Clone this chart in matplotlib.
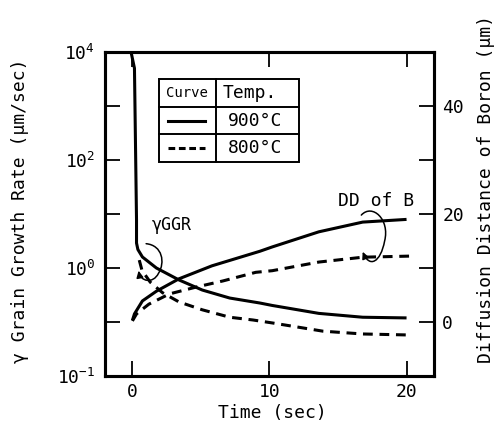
#!/usr/bin/env python3
# coding: utf-8
"""
Grain growth rate (gamma) and boron diffusion distance vs time, 900/800 C.
Left axis: growth rate (split log scale), right axis: diffusion distance.
"""

import numpy as np
import matplotlib
matplotlib.use("Agg")
import matplotlib.pyplot as plt
from matplotlib.path import Path
from matplotlib.patches import FancyArrowPatch, Rectangle
from matplotlib.lines import Line2D
from matplotlib.ticker import FixedLocator, FixedFormatter

plt.rcParams["font.family"] = ["DejaVu Sans Mono"]
plt.rcParams["mathtext.fontset"] = "custom"
plt.rcParams["mathtext.rm"] = "DejaVu Sans Mono"
plt.rcParams["mathtext.it"] = "DejaVu Sans Mono"

# gamma grain growth rate (um/sec)
t_ggr_900 = [-0.1, 0.15, 0.3, 0.3, 0.4, 0.73, 1.75, 3.4, 5.1, 7.1, 9.3, 10.2,
             13.6, 16.8, 20.0]
ggr_900 = [1e4, 5000, 7.8, 2.9, 2.2, 1.6, 1.0, 0.775, 0.625, 0.527, 0.474, 0.45,
           0.38, 0.35, 0.345]
t_ggr_800 = [0.5, 0.7, 1.3, 2.2, 3.4, 5.1, 7.1, 8.8, 10.2, 13.9, 16.8, 20.0]
ggr_800 = [1.4, 0.95, 0.74, 0.59, 0.485, 0.41, 0.35, 0.33, 0.31, 0.26, 0.245, 0.24]

# diffusion distance of boron (um)
t_dd_900 = [0.0, 0.15, 0.73, 1.75, 3.4, 5.8, 9.3, 10.2, 13.6, 16.8, 20.0]
dd_900 = [0.3, 1.5, 3.9, 5.7, 8.0, 10.4, 13.1, 13.9, 16.7, 18.5, 19.0]
t_dd_800 = [0.0, 0.3, 1.2, 2.7, 4.7, 6.6, 9.0, 10.2, 13.6, 16.8, 20.2]
dd_800 = [0.2, 1.5, 3.3, 5.2, 6.5, 7.6, 9.2, 9.5, 11.1, 12.0, 12.2]

x_ticks = [0, 10, 20]
left_ticks = [1e4, 1e3, 1e2, 1e1, 1.0, 10 ** -0.5, 0.1]
left_labels = [r"$\mathregular{10^{4}}$", "", r"$\mathregular{10^{2}}$", "",
               r"$\mathregular{10^{0}}$", "", r"$\mathregular{10^{-1}}$"]
right_ticks = [0, 10, 20, 30, 40]
right_labels = ["0", "", "20", "", "40"]


def fwd(y):
    # one decade per step above 1, half-decade steps below 1
    y = np.log10(np.clip(y, 1e-6, None))
    return np.where(y >= 0, y, 2 * y)


def inv(u):
    u = np.asarray(u, dtype=float)
    return np.where(u >= 0, 10.0 ** u, 10.0 ** (u / 2))


LW = 2.2
DASH = (0, (3.2, 2.2))

fig = plt.figure(figsize=(4.95, 4.28), dpi=100)
ax = fig.add_axes([0.2121, 0.1215, 0.6646, 0.757])
ax.set_yscale("function", functions=(fwd, inv))
ax.set_ylim(0.1, 1e4)
ax.set_xlim(-2, 22)
ax2 = ax.twinx()
ax2.set_ylim(-10, 50)

ax.plot(t_ggr_900, ggr_900, color="black", lw=LW, solid_capstyle="butt",
        solid_joinstyle="round")
ax.plot(t_ggr_800, ggr_800, color="black", lw=LW, ls=DASH)
ax2.plot(t_dd_900, dd_900, color="black", lw=LW, solid_capstyle="butt",
         solid_joinstyle="round")
ax2.plot(t_dd_800, dd_800, color="black", lw=LW, ls=DASH)

# ticks
ax.yaxis.set_major_locator(FixedLocator(left_ticks))
ax.yaxis.set_major_formatter(FixedFormatter(left_labels))
ax.yaxis.set_minor_locator(FixedLocator([]))
ax.set_xticks(x_ticks)
ax2.set_yticks(right_ticks)
ax2.set_yticklabels(right_labels)
ax.tick_params(axis="both", direction="in", length=11, width=1.3, labelsize=13, pad=7,
               top=True)
ax.tick_params(axis="x", pad=5)
ax2.tick_params(axis="y", direction="in", length=11, width=1.3, labelsize=13, pad=6)
for a in (ax, ax2):
    for sp in a.spines.values():
        sp.set_linewidth(2.2)

# axis labels
fig.text(272 / 495, 0.036, "Time (sec)", ha="center", va="center", fontsize=13)
fig.text(20 / 495, 0.507, "γ Grain Growth Rate (μm/sec)", ha="center", va="center",
         rotation=90, fontsize=13)
fig.text(486 / 495, 0.558, "Diffusion Distance of Boron (μm)", ha="center", va="center",
         rotation=90, fontsize=13)

# curve labels with looping arrows
ax2.text(2.9, 18.0, "γGGR", ha="center", va="center", fontsize=12)
ax2.text(17.8, 22.4, "DD of B", ha="center", va="center", fontsize=13)

loop_ggr = Path([(1.0, 14.5), (2.2, 14.2), (2.4, 11.0), (1.9, 9.0),
                 (1.5, 7.0), (0.6, 7.5), (0.45, 9.5)],
                [Path.MOVETO] + [Path.CURVE4] * 6)
loop_dd = Path([(16.7, 19.8), (17.5, 22.0), (18.8, 19.0), (18.4, 15.0),
                (18.1, 11.0), (17.3, 10.0), (16.8, 13.0)],
               [Path.MOVETO] + [Path.CURVE4] * 6)
for p in (loop_ggr, loop_dd):
    ax2.add_patch(FancyArrowPatch(path=p, transform=ax2.transData,
                                  arrowstyle="-|>,head_length=4,head_width=2",
                                  lw=1.1, color="black"))

# curve/temperature key drawn as a small table
x0, xm, x1 = 0.164, 0.337, 0.590
ys = [0.917, 0.830, 0.747, 0.660]
tr = ax.transAxes
ax.add_patch(Rectangle((x0, ys[3]), x1 - x0, ys[0] - ys[3], transform=tr,
                       fill=False, lw=1.4, color="black", zorder=5))
ax.add_line(Line2D([xm, xm], [ys[3], ys[0]], transform=tr, lw=1.4, color="black", zorder=5))
for y in ys[1:3]:
    ax.add_line(Line2D([x0, x1], [y, y], transform=tr, lw=1.4, color="black", zorder=5))
ax.text((x0 + xm) / 2, (ys[0] + ys[1]) / 2, "Curve", transform=tr, ha="center",
        va="center", fontsize=10)
ax.text(xm + 0.02, (ys[0] + ys[1]) / 2, "Temp.", transform=tr, ha="left",
        va="center", fontsize=13)
ax.add_line(Line2D([0.192, 0.304], [(ys[1] + ys[2]) / 2] * 2, transform=tr,
                   lw=LW, color="black"))
ax.add_line(Line2D([0.192, 0.304], [(ys[2] + ys[3]) / 2] * 2, transform=tr,
                   lw=LW, color="black", ls=(0, (2.2, 1.2))))
ax.text(xm + 0.037, (ys[1] + ys[2]) / 2, "900°C", transform=tr, ha="left",
        va="center", fontsize=13)
ax.text(xm + 0.037, (ys[2] + ys[3]) / 2, "800°C", transform=tr, ha="left",
        va="center", fontsize=13)

fig.savefig("out.png", dpi=100)
